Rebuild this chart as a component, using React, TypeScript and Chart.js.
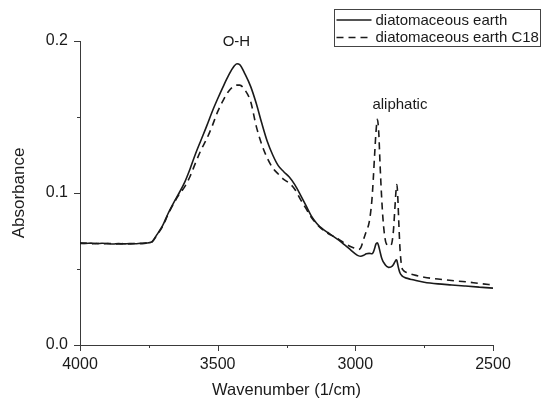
import React, { useEffect, useRef } from 'react';
import { Chart, registerables } from 'chart.js';

Chart.register(...registerables);

// Wavenumber grid (1/cm), shared by both spectra
const wavenumbers = [
  4000, 3980, 3960, 3940, 3920, 3900, 3880, 3860, 3840, 3820, 3800, 3780, 3760, 3740,
  3720, 3700, 3680, 3660, 3640, 3620, 3600, 3580, 3560, 3540, 3520, 3500, 3480, 3460,
  3440, 3430, 3420, 3400, 3380, 3360, 3340, 3320, 3300, 3280, 3260, 3240, 3220, 3200,
  3180, 3160, 3140, 3120, 3100, 3080, 3060, 3040, 3020, 3000, 2990, 2980, 2970, 2960,
  2950, 2940, 2935, 2930, 2925, 2920, 2915, 2910, 2905, 2900, 2895, 2890, 2885, 2880,
  2870, 2862, 2856, 2852, 2849, 2846, 2842, 2838, 2832, 2825, 2815, 2800, 2780, 2750,
  2700, 2650, 2600, 2550, 2500,
];

// diatomaceous earth (solid)
const earthAbs = [
  0.0672, 0.0668, 0.0670, 0.0666, 0.0669, 0.0667, 0.0664, 0.0668, 0.0665, 0.0668, 0.0666, 0.0669, 0.0671, 0.0678,
  0.0728, 0.0785, 0.0865, 0.0935, 0.1000, 0.1070, 0.1160, 0.1260, 0.1350, 0.1440, 0.1535, 0.1620, 0.1700, 0.1775,
  0.1835, 0.1850, 0.1845, 0.1780, 0.1700, 0.1590, 0.1460, 0.1340, 0.1250, 0.1180, 0.1140, 0.1105, 0.1055, 0.0990,
  0.0920, 0.0850, 0.0800, 0.0765, 0.0740, 0.0715, 0.0690, 0.0660, 0.0630, 0.0600, 0.0588, 0.0584, 0.0590, 0.0600,
  0.0603, 0.0600, 0.0610, 0.0635, 0.0665, 0.0672, 0.0650, 0.0612, 0.0575, 0.0552, 0.0538, 0.0525, 0.0516, 0.0511,
  0.0514, 0.0528, 0.0548, 0.0560, 0.0555, 0.0530, 0.0498, 0.0475, 0.0458, 0.0448, 0.0440, 0.0433, 0.0424, 0.0413,
  0.0402, 0.0395, 0.0388, 0.0381, 0.0374,
];

// diatomaceous earth C18 (dashed)
const c18Abs = [
  0.0668, 0.0670, 0.0666, 0.0669, 0.0665, 0.0668, 0.0666, 0.0664, 0.0667, 0.0665, 0.0668, 0.0667, 0.0670, 0.0676,
  0.0725, 0.0780, 0.0860, 0.0930, 0.0990, 0.1040, 0.1110, 0.1200, 0.1285, 0.1355, 0.1440, 0.1535, 0.1610, 0.1670,
  0.1705, 0.1710, 0.1710, 0.1675, 0.1600, 0.1440, 0.1320, 0.1230, 0.1165, 0.1125, 0.1090, 0.1065, 0.1025, 0.0960,
  0.0900, 0.0840, 0.0795, 0.0760, 0.0735, 0.0715, 0.0695, 0.0670, 0.0650, 0.0635, 0.0628, 0.0640, 0.0695, 0.0750,
  0.0805, 0.0950, 0.1086, 0.1250, 0.1400, 0.1485, 0.1400, 0.1180, 0.0990, 0.0840, 0.0740, 0.0680, 0.0658, 0.0652,
  0.0658, 0.0745, 0.0910, 0.1020, 0.1055, 0.0980, 0.0800, 0.0640, 0.0520, 0.0490, 0.0478, 0.0468, 0.0458, 0.0446,
  0.0434, 0.0424, 0.0416, 0.0405, 0.0395,
];

const seriesLabels = ['diatomaceous earth', 'diatomaceous earth C18'];
const xTitle = 'Wavenumber (1/cm)';
const yTitle = 'Absorbance';

// peak annotations
const peakLabels = ['O-H', 'aliphatic'];
const peakX = [3432, 2838];
const peakY = [0.1993, 0.158];

const FONT = '"Liberation Sans", Arial, sans-serif';
const INK = '#1a1a1a';
const AXIS = '#3a3a3a';

const decorPlugin = {
  id: 'decor',
  afterDraw(chart: any) {
    const ctx = chart.ctx as CanvasRenderingContext2D;
    const xs = chart.scales.x;
    const ys = chart.scales.y;
    const area = chart.chartArea;
    ctx.save();
    ctx.strokeStyle = AXIS;
    ctx.lineWidth = 1;
    // x ticks (outward)
    xs.ticks.forEach((t: any) => {
      const px = Math.round(xs.getPixelForValue(t.value)) + 0.5;
      const len = t.label !== '' ? 6 : 3;
      ctx.beginPath();
      ctx.moveTo(px, area.bottom);
      ctx.lineTo(px, area.bottom + len);
      ctx.stroke();
    });
    // y ticks (outward)
    ys.ticks.forEach((t: any) => {
      const py = Math.round(ys.getPixelForValue(t.value)) + 0.5;
      const len = t.label !== '' ? 6 : 3;
      ctx.beginPath();
      ctx.moveTo(area.left, py);
      ctx.lineTo(area.left - len, py);
      ctx.stroke();
    });
    // peak annotations
    ctx.fillStyle = INK;
    ctx.font = `15px ${FONT}`;
    ctx.textAlign = 'center';
    ctx.textBaseline = 'middle';
    peakLabels.forEach((lab, i) => {
      ctx.fillText(lab, xs.getPixelForValue(peakX[i]), ys.getPixelForValue(peakY[i]));
    });
    // legend box
    const bx = 334.5, by = 9.5, bw = 206, bh = 37;
    ctx.strokeStyle = '#444';
    ctx.lineWidth = 1;
    ctx.strokeRect(bx, by, bw, bh);
    ctx.textAlign = 'left';
    chart.data.datasets.forEach((ds: any, i: number) => {
      const cy = by + 10.5 + i * 17.5;
      ctx.strokeStyle = ds.borderColor;
      ctx.lineWidth = ds.borderWidth;
      ctx.setLineDash(ds.borderDash || []);
      ctx.beginPath();
      ctx.moveTo(bx + 2, cy);
      ctx.lineTo(bx + 37, cy);
      ctx.stroke();
      ctx.setLineDash([]);
      ctx.fillStyle = INK;
      ctx.fillText(ds.label, bx + 41, cy + 0.5);
    });
    ctx.restore();
  },
};

export default function App() {
  const canvasRef = useRef<HTMLCanvasElement | null>(null);

  useEffect(() => {
    if (!canvasRef.current) return;
    const chart = new Chart(canvasRef.current, {
      type: 'line',
      data: {
        datasets: [
          {
            label: seriesLabels[0],
            data: wavenumbers.map((w, i) => ({ x: w, y: earthAbs[i] })),
            borderColor: INK,
            borderWidth: 1.6,
            pointRadius: 0,
            cubicInterpolationMode: 'monotone',
            fill: false,
          },
          {
            label: seriesLabels[1],
            data: wavenumbers.map((w, i) => ({ x: w, y: c18Abs[i] })),
            borderColor: INK,
            borderWidth: 1.6,
            borderDash: [7, 5],
            pointRadius: 0,
            cubicInterpolationMode: 'monotone',
            fill: false,
          },
        ],
      },
      options: {
        responsive: false,
        animation: false,
        layout: { padding: { top: 41, right: 50, left: 0, bottom: 0 } },
        plugins: {
          legend: { display: false },
          tooltip: { enabled: false },
        },
        scales: {
          x: {
            type: 'linear',
            reverse: true,
            min: 2500,
            max: 4000,
            afterFit: (s: any) => { s.height = 55; },
            grid: { display: false, drawTicks: false },
            border: { display: true, color: AXIS, width: 1 },
            ticks: {
              stepSize: 250,
              autoSkip: false,
              maxRotation: 0,
              padding: 10,
              color: INK,
              font: { family: FONT, size: 16 },
              callback: (v: any) => (Number(v) % 500 === 0 ? String(v) : ''),
            },
            title: {
              display: true,
              text: xTitle,
              color: INK,
              font: { family: FONT, size: 16.5 },
              padding: { top: 0, bottom: 0 },
            },
          },
          y: {
            type: 'linear',
            min: 0,
            max: 0.2,
            afterFit: (s: any) => { s.width = 80; },
            grid: { display: false, drawTicks: false },
            border: { display: true, color: AXIS, width: 1 },
            ticks: {
              stepSize: 0.05,
              autoSkip: false,
              padding: 12,
              color: INK,
              font: { family: FONT, size: 16 },
              callback: (v: any) => {
                const n = Math.round(Number(v) * 100);
                return n % 10 === 0 ? (n / 100).toFixed(1) : '';
              },
            },
            title: {
              display: true,
              text: yTitle,
              color: INK,
              font: { family: FONT, size: 17 },
              padding: { top: 9, bottom: 0 },
            },
          },
        },
      },
      plugins: [decorPlugin],
    } as any);
    return () => chart.destroy();
  }, []);

  return (
    <div style={{ position: 'absolute', left: 0, top: 0, width: 543, height: 400 }}>
      <canvas ref={canvasRef} width={543} height={400} style={{ display: 'block' }} />
    </div>
  );
}
